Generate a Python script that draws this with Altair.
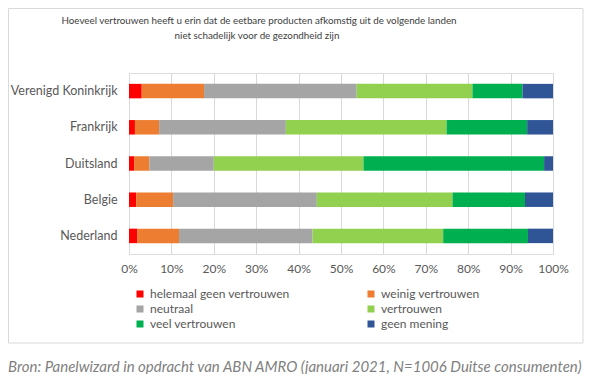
import altair as alt
import pandas as pd

countries = ["Verenigd Koninkrijk", "Frankrijk", "Duitsland", "Belgie", "Nederland"]
categories = ["helemaal geen vertrouwen", "weinig vertrouwen", "neutraal",
              "vertrouwen", "veel vertrouwen", "geen mening"]
colors = ["#FF0000", "#ED7D31", "#A5A5A5", "#92D050", "#00B050", "#2F5597"]

helemaal = [3.0, 1.4, 1.2, 1.7, 2.0]
weinig = [14.7, 5.7, 3.6, 8.7, 9.8]
neutraal = [36.0, 29.9, 15.2, 33.9, 31.5]
vertrouwen = [27.3, 37.9, 35.3, 32.0, 30.8]
veel = [11.8, 19.0, 42.6, 17.1, 20.0]
geen_mening = [7.2, 6.1, 2.1, 6.6, 5.9]

x_ticks = [0, 0.1, 0.2, 0.3, 0.4, 0.5, 0.6, 0.7, 0.8, 0.9, 1.0]

title_line1 = "Hoeveel vertrouwen heeft u erin dat de eetbare producten afkomstig uit de volgende landen"
title_line2 = "niet schadelijk voor de gezondheid zijn"
source_text = "Bron: Panelwizard in opdracht van ABN AMRO (januari 2021, N=1006 Duitse consumenten)"

series = [helemaal, weinig, neutraal, vertrouwen, veel, geen_mening]
rows = []
for ci, (cat, vals) in enumerate(zip(categories, series)):
    for country, v in zip(countries, vals):
        rows.append({"land": country, "categorie": cat, "waarde": v, "volgorde": ci})
df = pd.DataFrame(rows)

# legend is laid out column by column: reorder so rows read as in the reference
legend_order = [0, 2, 4, 1, 3, 5]
legend_domain = [categories[i] for i in legend_order]
legend_range = [colors[i] for i in legend_order]

FONT = "Lato"

bars = alt.Chart(df).mark_bar().encode(
    y=alt.Y("land:N", sort=countries, title=None,
            scale=alt.Scale(paddingInner=0.6, paddingOuter=0.3),
            axis=alt.Axis(ticks=False, domain=False, labelPadding=12, labelFontSize=12.5,
                          labelColor="#595959", labelFont=FONT, grid=False)),
    x=alt.X("waarde:Q", stack="normalize", title=None,
            scale=alt.Scale(domain=[0, 1], nice=False),
            axis=alt.Axis(format=".0%", values=x_ticks, ticks=False, domain=False,
                          grid=True, gridColor="#d9d9d9", labelPadding=9,
                          labelFlush=False, labelOverlap=False,
                          labelFontSize=12, labelColor="#595959", labelFont=FONT)),
    color=alt.Color("categorie:N", title=None,
                    scale=alt.Scale(domain=legend_domain, range=legend_range),
                    legend=alt.Legend(orient="none", legendX=5, legendY=215, columns=2,
                                      columnPadding=75, rowPadding=3, symbolType="square",
                                      symbolSize=49, symbolStrokeWidth=0, labelFontSize=12,
                                      labelColor="#595959", labelFont=FONT, labelOffset=4,
                                      padding=0, labelLimit=300)),
    order=alt.Order("volgorde:Q"),
)

border = alt.Chart(pd.DataFrame({"k": [0]})).mark_rect(
    fill="transparent", stroke="#d9d9d9", strokeWidth=1
).encode(x=alt.value(-120.5), x2=alt.value(454), y=alt.value(-64.5), y2=alt.value(270))

title1 = alt.Chart(pd.DataFrame({"t": [title_line1]})).mark_text(
    font=FONT, fontSize=9.8, color="#404040", align="center", baseline="middle"
).encode(text="t:N", x=alt.value(130), y=alt.value(-52.5))

title2 = alt.Chart(pd.DataFrame({"t": [title_line2]})).mark_text(
    font=FONT, fontSize=9.8, color="#404040", align="center", baseline="middle"
).encode(text="t:N", x=alt.value(128), y=alt.value(-37.5))

source = alt.Chart(pd.DataFrame({"t": [source_text]})).mark_text(
    font=FONT, fontSize=15, fontStyle="italic", color="#7f7f7f", align="left",
    baseline="middle"
).encode(text="t:N", x=alt.value(-121), y=alt.value(294))

chart = alt.layer(border, bars, title1, title2, source).properties(
    width=424, height=181,
    autosize=alt.AutoSizeParams(type="none"),
    padding={"left": 121, "top": 65, "right": 37, "bottom": 120},
).configure_view(stroke=None).configure(background="white")

chart.save("out.html", embed_options={"renderer": "svg", "actions": False})
